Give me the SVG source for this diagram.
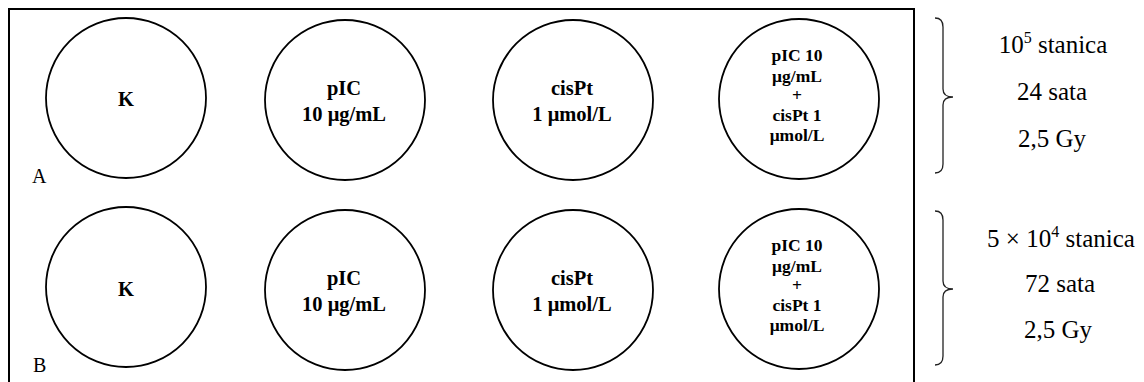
<svg xmlns="http://www.w3.org/2000/svg" width="1144" height="382" viewBox="0 0 1144 382">
<style>
.well{fill:#fff;stroke:#000;stroke-width:1.8}
.frame{fill:none;stroke:#000;stroke-width:2}
.brace{fill:none;stroke:#222;stroke-width:1.3}
.wt{font-family:"Liberation Serif","Times New Roman",serif;font-weight:bold;font-size:20.5px;text-anchor:middle;fill:#000}
.ws{font-family:"Liberation Serif","Times New Roman",serif;font-weight:bold;font-size:17.5px;text-anchor:middle;fill:#000}
.rt{font-family:"Liberation Serif","Times New Roman",serif;font-size:25px;text-anchor:middle;fill:#000}
.lbl{font-family:"Liberation Serif","Times New Roman",serif;font-size:20px;fill:#000}
</style>
<rect width="1144" height="382" fill="#fff"/>
<g id="plate">
<path class="frame" d="M9,400 V9 H914 V400"/>
<text class="lbl" x="32" y="183">A</text>
<text class="lbl" x="33" y="372">B</text>
</g>
<g id="A-K"><circle class="well" cx="126" cy="98" r="80"/><text class="wt" x="126" y="106">K</text></g>
<g id="A-pIC"><circle class="well" cx="345" cy="100" r="80"/><text class="wt" x="344" y="95">pIC</text><text class="wt" x="344" y="121">10 μg/mL</text></g>
<g id="A-cisPt"><circle class="well" cx="573" cy="100" r="80"/><text class="wt" x="572" y="95">cisPt</text><text class="wt" x="572" y="121">1 μmol/L</text></g>
<g id="A-combo"><circle class="well" cx="799" cy="99" r="80"/>
<text class="ws" x="797" y="61">pIC 10</text><text class="ws" x="797" y="81.5">μg/mL</text><text class="ws" x="797" y="101">+</text><text class="ws" x="797" y="121">cisPt 1</text><text class="ws" x="797" y="141">μmol/L</text></g>
<g id="B-K"><circle class="well" cx="126" cy="287" r="80"/><text class="wt" x="126" y="296">K</text></g>
<g id="B-pIC"><circle class="well" cx="345" cy="290" r="80"/><text class="wt" x="344" y="285">pIC</text><text class="wt" x="344" y="311">10 μg/mL</text></g>
<g id="B-cisPt"><circle class="well" cx="573" cy="290" r="80"/><text class="wt" x="572" y="285">cisPt</text><text class="wt" x="572" y="311">1 μmol/L</text></g>
<g id="B-combo"><circle class="well" cx="799" cy="289" r="80"/>
<text class="ws" x="797" y="251">pIC 10</text><text class="ws" x="797" y="271.5">μg/mL</text><text class="ws" x="797" y="291">+</text><text class="ws" x="797" y="311">cisPt 1</text><text class="ws" x="797" y="331">μmol/L</text></g>
<g id="brace-A">
<path class="brace" d="M935,18 Q943,18 943,27 L943,89 Q943,97 953,97 Q943,97 943,105 L943,164 Q943,173 935,173"/>
<text class="rt" x="1053" y="53">10<tspan font-size="16" dy="-10">5</tspan><tspan dy="10"> stanica</tspan></text>
<text class="rt" x="1052" y="100">24 sata</text>
<text class="rt" x="1052" y="147">2,5 Gy</text>
</g>
<g id="brace-B">
<path class="brace" d="M935,211 Q943,211 943,220 L943,281 Q943,289 953,289 Q943,289 943,297 L943,356 Q943,365 935,365"/>
<text class="rt" x="1061" y="247">5 × 10<tspan font-size="16" dy="-10">4</tspan><tspan dy="10"> stanica</tspan></text>
<text class="rt" x="1060" y="292">72 sata</text>
<text class="rt" x="1058" y="338">2,5 Gy</text>
</g>
</svg>
